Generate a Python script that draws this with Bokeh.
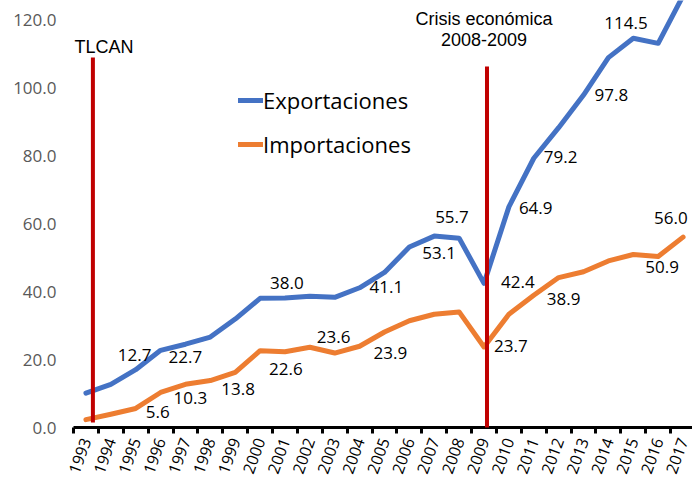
import math
from bokeh.plotting import figure
from bokeh.models import Range1d, FixedTicker, Legend, LegendItem, ColumnDataSource, Arrow, Label
from bokeh.core.properties import value
from bokeh.embed import file_html
from bokeh.resources import INLINE

# ---------------- data ----------------
years = list(range(1993, 2018))
exportaciones = [10.1, 12.7, 17.0, 22.7, 24.5, 26.6, 31.9, 38.0, 38.1, 38.6, 38.3, 41.1, 45.6,
                 53.1, 56.3, 55.7, 42.4, 64.9, 79.2, 88.2, 97.8, 108.8, 114.5, 113.0, 127.0]
importaciones = [2.3, 3.9, 5.6, 10.3, 12.7, 13.8, 16.2, 22.6, 22.3, 23.6, 21.9, 23.9, 28.1,
                 31.4, 33.3, 34.0, 23.7, 33.3, 38.9, 44.1, 45.8, 49.0, 50.9, 50.3, 56.0]
year_labels = [str(y) for y in years]

y_ticks = [0, 20, 40, 60, 80, 100, 120]
y_tick_labels = ["0.0", "20.0", "40.0", "60.0", "80.0", "100.0", "120.0"]

series_names = ["Exportaciones", "Importaciones"]

# years whose value is printed
exp_label_years = [1994, 1996, 2000, 2004, 2006, 2008, 2009, 2010, 2011, 2013, 2015]
imp_label_years = [1995, 1996, 1998, 2000, 2002, 2004, 2009, 2011, 2015, 2017]

# events
event_years = [1993, 2009]
event_text_tlcan = "TLCAN"
event_text_crisis = ["Crisis económica", "2008-2009"]

# ---------------- styling / placement ----------------
BLUE = "#4472C4"
ORANGE = "#ED7D31"
RED = "#C00000"
FONT = "Open Sans"
FONT2 = "Liberation Sans"

exp_dx = [7, 8, 10, 10, 13, -24, 17, 10, 10, 11, -29]
exp_dy = [-29, 7, -15, -1, 6, -21, -1, 1, -1, 0, -15]
imp_dx = [10, 13, 11, 9, 7, 14, 10, 13, 12, -29]
imp_dy = [4, 6, 8, 18, -10, 7, -1, 4, 13, -19]

p = figure(width=692, height=479, output_backend="svg", toolbar_location=None,
           x_range=Range1d(1992.5, 2017.38), y_range=Range1d(0, 125.6),
           min_border_left=73, min_border_right=0, min_border_top=0, min_border_bottom=52)
p.outline_line_color = None
p.xgrid.visible = False
p.ygrid.visible = False
p.background_fill_color = "white"
p.border_fill_color = "white"

# x axis
p.xaxis.ticker = FixedTicker(ticks=years, minor_ticks=[y - 0.5 for y in years] + [years[-1] + 0.5])
p.xaxis.major_label_overrides = {y: s for y, s in zip(years, year_labels)}
p.xaxis.axis_line_color = "black"
p.xaxis.axis_line_width = 3
p.xaxis.major_tick_out = 0
p.xaxis.major_tick_in = 0
p.xaxis.minor_tick_out = 6
p.xaxis.minor_tick_in = 0
p.xaxis.minor_tick_line_width = 3
p.xaxis.minor_tick_line_color = "black"
p.xaxis.major_label_orientation = math.radians(70)
p.xaxis.major_label_text_font = FONT
p.xaxis.major_label_text_font_size = "16px"
p.xaxis.major_label_text_color = "black"
p.xaxis.major_label_standoff = 5

# y axis
p.yaxis.ticker = FixedTicker(ticks=y_ticks)
p.yaxis.major_label_overrides = {t: s for t, s in zip(y_ticks, y_tick_labels)}
p.yaxis.axis_line_color = None
p.yaxis.major_tick_line_color = None
p.yaxis.minor_tick_line_color = None
p.yaxis.major_tick_out = 0
p.yaxis.major_tick_in = 0
p.yaxis.major_label_text_font = FONT
p.yaxis.major_label_text_font_size = "17px"
p.yaxis.major_label_text_color = "#595959"
p.yaxis.major_label_standoff = 17

# event lines (annotations so that they may pass the axis)
ev_x = [event_years[0] + 0.28, event_years[1] + 0.12]
ev_top = [108.8, 106.2]
ev_bot = [1.5, -2.4]
for xx, y0, y1 in zip(ev_x, ev_bot, ev_top):
    p.add_layout(Arrow(end=None, x_start=xx, y_start=y0, x_end=xx, y_end=y1,
                       line_color=RED, line_width=4))

# series lines
src = ColumnDataSource(dict(x=years, exp=exportaciones, imp=importaciones))
r_exp = p.line("x", "exp", source=src, line_color=BLUE, line_width=5, line_join="round", line_cap="round")
r_imp = p.line("x", "imp", source=src, line_color=ORANGE, line_width=5, line_join="round", line_cap="round")

# value labels
def lab(label_years, series, dx, dy):
    ys = [series[years.index(y)] for y in label_years]
    txt = [f"{v:.1f}" for v in ys]
    s = ColumnDataSource(dict(x=label_years, y=ys, t=txt, dx=dx, dy=dy))
    p.text("x", "y", text="t", x_offset="dx", y_offset="dy", source=s,
           text_font=value(FONT), text_font_size="17px", text_color="black",
           text_align="left", text_baseline="middle")

lab(exp_label_years, exportaciones, exp_dx, exp_dy)
lab(imp_label_years, importaciones, imp_dx, imp_dy)

# event texts
p.add_layout(Label(x=event_years[0] - 0.5, y=111.8, x_offset=1, text=event_text_tlcan,
                   text_font=FONT2, text_font_size="18px", text_color="black",
                   text_align="left", text_baseline="middle"))
for t, yy in zip(event_text_crisis, [120.3, 114.1]):
    p.add_layout(Label(x=event_years[1], y=yy, text=t,
                       text_font=FONT2, text_font_size="18px", text_color="black",
                       text_align="center", text_baseline="middle"))

legend = Legend(items=[LegendItem(label=series_names[0], renderers=[r_exp]),
                       LegendItem(label=series_names[1], renderers=[r_imp])],
                location=(165, 268), orientation="vertical",
                label_text_font=FONT, label_text_font_size="22px", label_text_color="black",
                glyph_width=25, glyph_height=30, label_height=30, spacing=14,
                label_standoff=0, padding=0, margin=0,
                border_line_color=None, background_fill_alpha=0)
p.add_layout(legend, "center")

open("out.html", "w").write(file_html(p, INLINE))
